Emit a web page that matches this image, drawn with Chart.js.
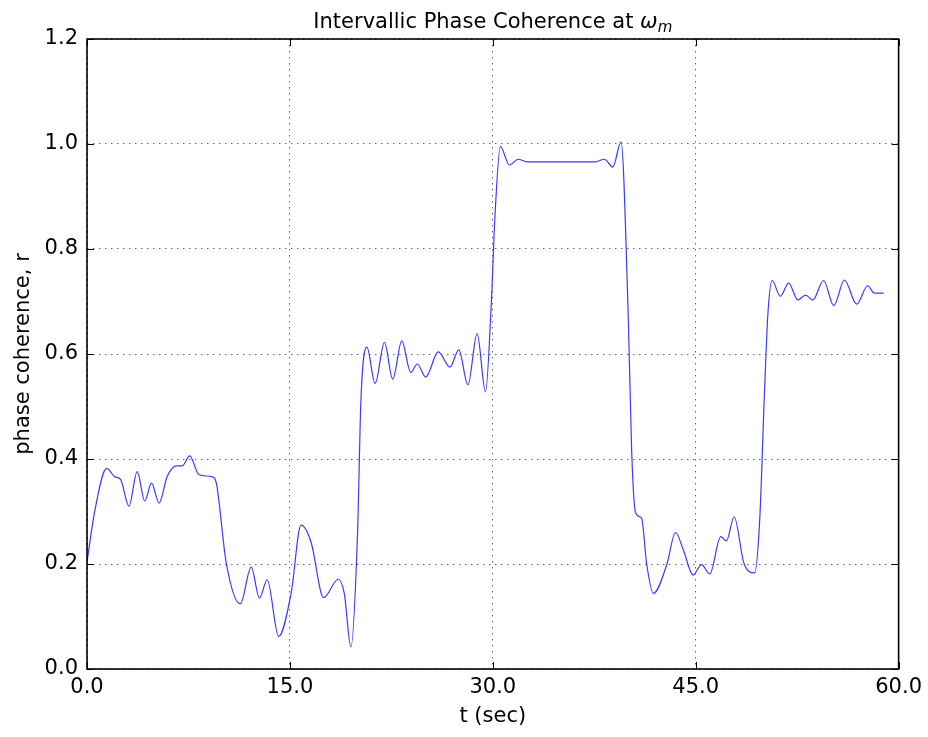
<!DOCTYPE html>
<html>
   <head>
      <meta charset="UTF-8">
      <title>Intervallic Phase Coherence</title>
      <script src="https://cdn.jsdelivr.net/npm/chart.js@4"></script>
      <style>
         body{margin:0;background:#fff;}
         #chartCanvas{display:block;}
      </style>
   </head>
   <body>
        <canvas id="chartCanvas" width="928" height="737"></canvas>

        <script>
            // time (sec) and phase coherence r
            const tValues=[0,0.59,1.45,2.06,2.48,3.10,3.71,4.27,4.77,5.33,5.92,6.61,7.05,7.59,8.28,9.26,9.56,
               10.3,11.33,12.14,12.75,13.32,14.17,15.09,15.82,16.56,17.49,18.57,19.02,19.51,20.0,20.25,20.69,
               21.3,21.99,22.6,23.27,23.93,24.42,25.04,25.97,26.83,27.49,28.16,28.84,29.46,29.9,30.15,30.56,
               31.23,31.87,32.53,37.57,38.25,38.87,39.48,40.02,40.27,40.56,41.0,41.37,41.87,42.85,43.51,44.08,
               44.81,45.43,46.04,46.85,47.27,47.84,48.57,49.36,49.73,50.1,50.34,50.65,51.25,51.87,52.55,53.12,
               53.66,54.45,55.21,55.99,56.9,57.71,58.2,58.89];
            const rValues=[0.204,0.303,0.382,0.366,0.361,0.310,0.376,0.320,0.354,0.316,0.366,0.387,0.387,0.406,0.370,0.366,0.354,
               0.201,0.124,0.194,0.135,0.170,0.062,0.144,0.274,0.242,0.136,0.171,0.144,0.042,0.258,0.512,0.613,
               0.544,0.622,0.552,0.625,0.565,0.581,0.556,0.604,0.575,0.608,0.541,0.639,0.528,0.703,0.858,0.995,
               0.960,0.971,0.966,0.966,0.971,0.956,1.004,0.665,0.411,0.297,0.287,0.201,0.144,0.198,0.260,0.227,
               0.179,0.199,0.181,0.252,0.244,0.290,0.201,0.183,0.284,0.538,0.678,0.740,0.710,0.735,0.703,0.712,
               0.703,0.740,0.692,0.741,0.695,0.730,0.716,0.716];
            const xTicks=[0,15,30,45,60];
            const yTicks=[0,0.2,0.4,0.6,0.8,1.0,1.2];

            const fontFamily='"DejaVu Sans", sans-serif';
            const points=tValues.map((t,i)=>({x:t,y:rValues[i]}));

            // matplotlib look: box frame, inward ticks, mathtext title
            const framePlugin={
               id:"frame",
               afterDraw(chart){
                  const {ctx, chartArea:a, scales:{x, y}}=chart;
                  ctx.save();
                  ctx.strokeStyle="#000";
                  ctx.lineWidth=1;
                  ctx.beginPath();
                  for(const v of xTicks){
                     const px=Math.round(x.getPixelForValue(v))+0.5;
                     ctx.moveTo(px,a.bottom); ctx.lineTo(px,a.bottom-7);
                     ctx.moveTo(px,a.top); ctx.lineTo(px,a.top+7);
                  }
                  for(const v of yTicks){
                     const py=Math.round(y.getPixelForValue(v))+0.5;
                     ctx.moveTo(a.left,py); ctx.lineTo(a.left+7,py);
                     ctx.moveTo(a.right,py); ctx.lineTo(a.right-7,py);
                  }
                  ctx.stroke();
                  ctx.lineWidth=1.6;
                  ctx.strokeRect(a.left,a.top,a.right-a.left,a.bottom-a.top);

                  const main="Intervallic Phase Coherence at ";
                  const bigFont="21px "+fontFamily;
                  const omegaFont="italic 21px "+fontFamily;
                  const subFont="italic 15px "+fontFamily;
                  ctx.font=bigFont; const w1=ctx.measureText(main).width;
                  ctx.font=omegaFont; const w2=ctx.measureText("ω").width;
                  ctx.font=subFont; const w3=ctx.measureText("m").width;
                  let tx=(a.left+a.right)/2-(w1+w2+w3)/2;
                  const base=28;
                  ctx.fillStyle="#000";
                  ctx.textBaseline="alphabetic";
                  ctx.textAlign="left";
                  ctx.font=bigFont; ctx.fillText(main,tx,base); tx+=w1;
                  ctx.font=omegaFont; ctx.fillText("ω",tx,base); tx+=w2;
                  ctx.font=subFont; ctx.fillText("m",tx,base+4);
                  ctx.restore();
               }
            };

            const tickFont={family:fontFamily,size:21};
            const gridOpts={color:"rgba(0,0,0,0.6)",lineWidth:1,drawTicks:false};
            const borderOpts={display:false,dash:[1.5,4.5]};

            const chart=new Chart(document.getElementById("chartCanvas"),{
               type:"line",
               data:{
                  datasets:[{
                     data:points,
                     borderColor:"#3a3aff",
                     borderWidth:1.2,
                     pointRadius:0,
                     fill:false,
                     cubicInterpolationMode:"monotone"
                  }]
               },
               options:{
                  responsive:false,
                  animation:false,
                  layout:{padding:{top:39,right:27,left:0,bottom:0}},
                  plugins:{legend:{display:false},tooltip:{enabled:false},title:{display:false}},
                  scales:{
                     x:{
                        type:"linear",min:0,max:60,
                        afterFit:s=>{s.height=68;},
                        afterBuildTicks:s=>{s.ticks=xTicks.map(v=>({value:v}));},
                        ticks:{callback:v=>v.toFixed(1),font:tickFont,color:"#000",padding:6,maxRotation:0},
                        grid:gridOpts,
                        border:borderOpts,
                        title:{display:true,text:"t (sec)",font:tickFont,color:"#000",padding:{bottom:8}}
                     },
                     y:{
                        type:"linear",min:0,max:1.2,
                        afterFit:s=>{s.width=87;},
                        afterBuildTicks:s=>{s.ticks=yTicks.map(v=>({value:v}));},
                        ticks:{callback:v=>v.toFixed(1),font:tickFont,color:"#000",padding:9},
                        grid:gridOpts,
                        border:borderOpts,
                        title:{display:true,text:"phase coherence, r",font:tickFont,color:"#000",padding:{top:11}}
                     }
                  }
               },
               plugins:[framePlugin]
            });
        </script>
   </body>
</html>
